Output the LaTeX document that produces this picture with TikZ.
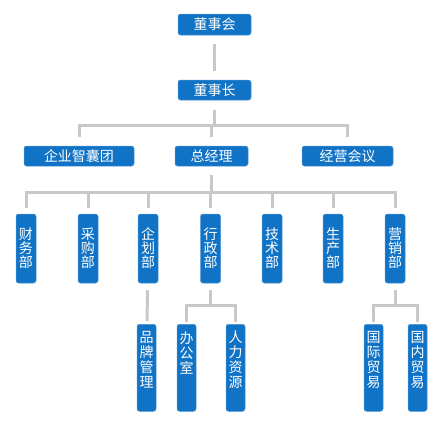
\documentclass[tikz,border=0pt]{standalone}
\usepackage{fontspec}
\newfontfamily\cjk{Noto Sans CJK SC}
\definecolor{boxblue}{RGB}{17,115,197}
\definecolor{boxedge}{RGB}{75,148,212}
\definecolor{linkgray}{RGB}{200,200,200}
\newcommand{\vlab}[1]{\parbox[t][87pt][t]{19pt}{\centering\vspace*{7pt}#1}}

\begin{document}
\begin{tikzpicture}[x=1pt, y=-1pt,
  box/.style={draw=boxedge, line width=.5pt, fill=boxblue, rounded corners=2.5pt,
    text=white, inner sep=0pt, font=\cjk\fontsize{14}{14}\selectfont},
  hbox/.style={box, minimum width=73pt, minimum height=21pt},
  dept/.style={box, minimum width=20pt, minimum height=69pt, align=center},
  subdept/.style={box, anchor=north, font=\cjk\fontsize{14}{15}\selectfont},
  link/.style={draw=linkgray, line width=3pt}]
  \useasboundingbox[fill=white] (0,0) rectangle (440,448);

  % top levels
  \node[hbox] (dsh) at (214.5, 24.5) {董事会};
  \node[hbox, minimum height=20pt] (dsz) at (214.5, 90) {董事长};
  \node[hbox, minimum height=20pt, minimum width=110pt] (zhinang) at (79, 156) {企业智囊团};
  \node[hbox, minimum height=20pt] (zjl) at (211.5, 156) {总经理};
  \node[hbox, minimum height=20pt, minimum width=91pt] (jingying) at (347.5, 156) {经营会议};

  % departments
  \node[dept] (caiwu) at (26, 248.5) {财\\务\\部};
  \node[dept] (caigou) at (88, 248.5) {采\\购\\部};
  \node[dept] (qihua) at (148, 248.5) {企\\划\\部};
  \node[dept] (xingzheng) at (210.5, 248.5) {行\\政\\部};
  \node[dept] (jishu) at (272, 248.5) {技\\术\\部};
  \node[dept] (shengchan) at (333, 248.5) {生\\产\\部};
  \node[dept] (yingxiao) at (395, 248.5) {营\\销\\部};

  % sub departments
  \node[subdept] (pinpai) at (146.5, 324) {\vlab{品\\牌\\管\\理}};
  \node[subdept] (bangong) at (186.5, 324) {\vlab{办\\公\\室}};
  \node[subdept] (renli) at (235.5, 324) {\vlab{人\\力\\资\\源}};
  \node[subdept] (guoji) at (373.5, 324) {\vlab{国\\际\\贸\\易}};
  \node[subdept] (guonei) at (417.5, 324) {\vlab{国\\内\\贸\\易}};

  % links
  \draw[link, shorten <=9pt, shorten >=9pt] (dsh) -- (dsz);

  \coordinate (b1) at (214.5, 125);
  \draw[link, shorten <=10pt] (dsz.south) -- (b1);
  \foreach \n in {zhinang, zjl, jingying}
    \draw[link, shorten >=9pt] (b1) -| (\n.north);

  \coordinate (b2) at (211.5, 192);
  \draw[link, shorten <=9pt] (zjl.south) -- (b2);
  \foreach \n in {caiwu, caigou, qihua, xingzheng, jishu, shengchan, yingxiao}
    \draw[link, shorten >=6pt] (b2) -| (\n.north);

  \draw[link, shorten <=7pt, shorten >=3pt] (qihua) -- (pinpai);

  \coordinate (b3) at (210.5, 305);
  \draw[link, shorten <=7pt] (xingzheng.south) -- (b3);
  \foreach \n in {bangong, renli}
    \draw[link, shorten >=2pt] (b3) -| (\n.north);

  \coordinate (b4) at (395, 305);
  \draw[link, shorten <=7pt] (yingxiao.south) -- (b4);
  \foreach \n in {guoji, guonei}
    \draw[link, shorten >=2pt] (b4) -| (\n.north);
\end{tikzpicture}
\end{document}
